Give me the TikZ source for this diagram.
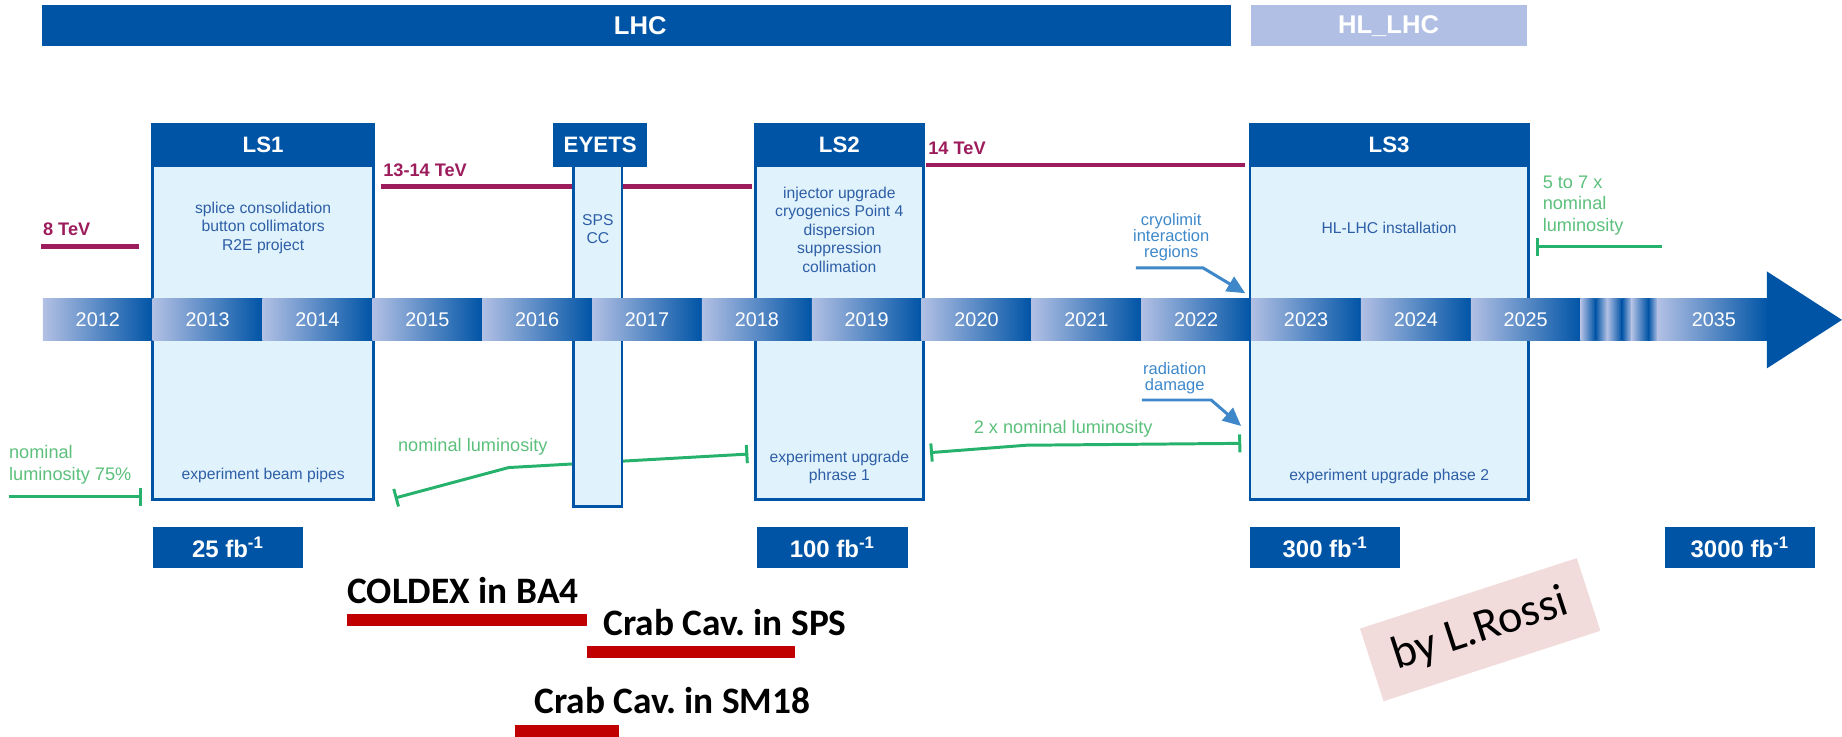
\documentclass[tikz,border=0pt]{standalone}
\usepackage{fontspec}
\setmainfont{Liberation Sans}
\newfontfamily\calibri{Carlito}
\usetikzlibrary{arrows.meta}
\frenchspacing

\definecolor{lhcblue}{RGB}{0,84,166}
\definecolor{hlblue}{RGB}{176,191,227}
\definecolor{paleblue}{RGB}{224,242,252}
\definecolor{textblue}{RGB}{46,94,166}
\definecolor{arrowblue}{RGB}{62,136,202}
\definecolor{yearlight}{RGB}{178,192,228}
\definecolor{tevred}{RGB}{156,28,92}
\definecolor{lumigreen}{RGB}{38,178,108}
\definecolor{lumitext}{RGB}{92,192,124}
\definecolor{cavred}{RGB}{192,0,0}
\definecolor{notepink}{RGB}{242,220,219}

\tikzset{
  toplabel/.style={text=white, font=\bfseries\fontsize{15.5}{19}\selectfont},
  stopbox/.style={fill=paleblue, draw=lhcblue, line width=1.6pt},
  stophead/.style={fill=lhcblue, draw=lhcblue, line width=1.6pt},
  headlabel/.style={text=white, font=\bfseries\fontsize{13.5}{16}\selectfont},
  worklabel/.style={text=textblue, align=center, font=\fontsize{9.5}{11.2}\selectfont},
  yearlabel/.style={text=white, font=\fontsize{12}{14}\selectfont},
  tevline/.style={tevred, line width=2.9pt},
  tevlabel/.style={text=tevred, anchor=west, inner sep=0pt, font=\bfseries\fontsize{11}{13}\selectfont},
  lumiline/.style={lumigreen, line width=1.8pt, >={Bar[width=11pt]}},
  lumilabel/.style={text=lumitext, align=left, inner sep=0pt, font=\fontsize{11}{13.2}\selectfont},
  notearrow/.style={arrowblue, line width=1.8pt, -{Triangle[length=11pt,width=10pt]}},
  notelabel/.style={text=arrowblue, align=center, font=\fontsize{10}{9.8}\selectfont},
  fbbox/.style={fill=lhcblue, text=white, inner sep=0pt, minimum width=3.2cm, minimum height=0.89cm,
    font=\bfseries\fontsize{14.5}{17}\selectfont},
  cavline/.style={cavred, line width=7.5pt},
  cavlabel/.style={anchor=base west, inner sep=0pt, font=\calibri\bfseries\fontsize{22.6}{27}\selectfont},
}

\begin{document}
\begin{tikzpicture}[x=0.025cm, y=-0.025cm]
  \useasboundingbox (0,0) rectangle (1568,627);
  % machine bars on top
  \fill[lhcblue] (36,4.5) rectangle (1047.5,39.5);
  \node[toplabel] (lhc) at (545,22) {LHC};
  \fill[hlblue] (1064.5,4.5) rectangle (1300,39.5);
  \node[toplabel] (hllhc) at (1182,22) {HL\_LHC};
  % beam energy
  \draw[tevline] (35.3,209.5) -- (118.5,209.5);
  \node[tevlabel] (tev8) at (36.4,195) {8 TeV};
  \draw[tevline] (324,159) -- (640,159);
  \node[tevlabel] (tev13) at (326,144.7) {13-14 TeV};
  \draw[tevline] (788,140.5) -- (1060,140.5);
  \node[tevlabel] (tev14) at (790,126) {14 TeV};
  % luminosity
  \draw[lumiline, ->] (7.5,423) -- (121,423);
  \node[lumilabel, anchor=west] (lumi75) at (7.5,395.5) {nominal\\luminosity 75\%};
  \draw[lumiline, <->] (336,424) -- (433,398) -- (637,386.5);
  \node[lumilabel] (lumi1) at (402.5,380) {nominal luminosity};
  \draw[lumiline, <->] (791.7,385.3) -- (873.5,379) -- (1056.6,377.4);
  \node[lumilabel] (lumi2) at (905,365) {2 x nominal luminosity};
  \draw[lumiline, <-] (1307.4,210) -- (1415,210);
  \node[lumilabel, anchor=west] (lumi57) at (1313,175) {5 to 7 x\\nominal\\luminosity};
  % long shutdowns
  \foreach \xa/\xb/\stop in {130/318/LS1, 643/786/LS2, 1064/1301/LS3}{
    \draw[stopbox] (\xa,106) rectangle (\xb,425);
    \filldraw[stophead] (\xa,106) rectangle (\xb,141);
    \node[headlabel] (\stop) at ({(\xa+\xb)/2},123.5) {\stop};}
  \draw[stopbox] (488,141) rectangle (529.5,431);
  \filldraw[stophead] (472,106) rectangle (550,141);
  \node[headlabel] (eyets) at (511,123.5) {EYETS};
  \node[worklabel] (ls1work) at (224,194) {splice consolidation\\button collimators\\R2E project};
  \node[worklabel] (ls1exp) at (224,405) {experiment beam pipes};
  \node[worklabel] (spscc) at (509,195) {SPS\\CC};
  \node[worklabel] (ls2work) at (714.5,195.5) {injector upgrade\\cryogenics Point 4\\dispersion\\suppression\\collimation};
  \node[worklabel] (ls2exp) at (714.5,398) {experiment upgrade\\phrase 1};
  \node[worklabel] (ls3work) at (1182.5,194) {HL-LHC installation};
  \node[worklabel] (ls3exp) at (1182.5,405.5) {experiment upgrade phase 2};
  % notes pointing at LS3
  \node[notelabel] (cryo) at (997,202) {cryolimit\\interaction\\regions};
  \coordinate (cryotip) at (1060,249.6);
  \draw[notearrow] (967,228) -- (1024,228) -- (cryotip);
  \node[notelabel] (raddam) at (1000,322) {radiation\\damage};
  \coordinate (radtip) at (1056.5,362.6);
  \draw[notearrow] (972,340.5) -- (1031,340.5) -- (radtip);
  % time line
  \foreach \yr [count=\i from 0] in {2012,...,2025}{
    \shade[left color=yearlight, right color=lhcblue] ({36.5+93.5*\i},254.5) rectangle ++(93.5,35.5);
    \node[yearlabel] (y\yr) at ({83.25+93.5*\i},272.3) {\yr};}
  \foreach \xa/\xb/\ca/\cb in {1345.5/1358/yearlight/lhcblue, 1358/1368/lhcblue/yearlight,
      1368/1380.5/yearlight/lhcblue, 1380.5/1389/lhcblue/yearlight,
      1389/1403/yearlight/lhcblue, 1403/1411/lhcblue/yearlight}
    \shade[left color=\ca, right color=\cb] (\xa,254.5) rectangle (\xb,290);
  \shade[left color=yearlight, right color=lhcblue] (1411,254.5) rectangle (1505,290);
  \node[yearlabel] (y2035) at (1459,272.3) {2035};
  \fill[lhcblue] (1504,231) -- (1568,272.3) -- (1504,313.6) -- cycle;% arrow head
  % integrated luminosity
  \node[fbbox] (fb25) at (194,466) {25 fb\textsuperscript{-1}};
  \node[fbbox] (fb100) at (708.5,466) {100 fb\textsuperscript{-1}};
  \node[fbbox] (fb300) at (1128,466) {300 fb\textsuperscript{-1}};
  \node[fbbox] (fb3000) at (1481,466) {3000 fb\textsuperscript{-1}};
  % test benches
  \node[cavlabel] (coldex) at (295.5,513.6) {COLDEX in BA4};
  \draw[cavline] (295.5,528) -- (500,528);
  \node[cavlabel] (crabsps) at (513.5,540.6) {Crab Cav. in SPS};
  \draw[cavline] (500,555) -- (677,555);
  \node[cavlabel] (crabsm) at (454.6,607) {Crab Cav. in SM18};
  \draw[cavline] (438,622.5) -- (527,622.5);
  % credit
  \node[fill=notepink, rotate=18, minimum width=4.85cm, minimum height=1.625cm,
    font=\calibri\fontsize{28}{32}\selectfont] (rossi) at (1260,536) {by L.Rossi};
\end{tikzpicture}
\end{document}
